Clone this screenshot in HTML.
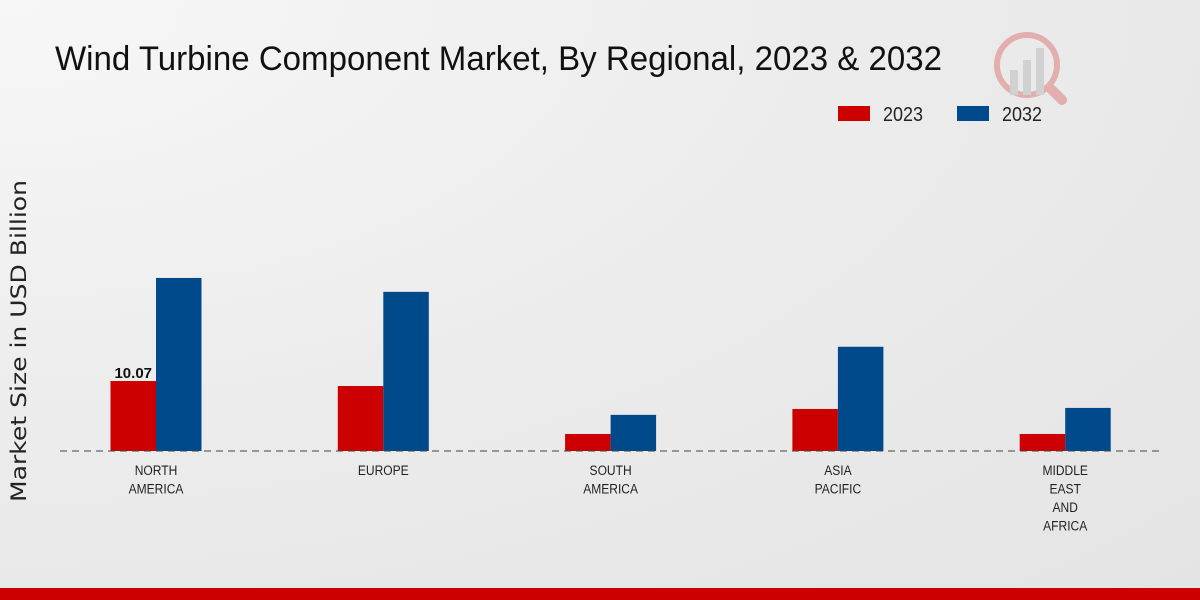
<!DOCTYPE html>
<html><head><meta charset="utf-8"><style>
body{margin:0;width:1200px;height:600px;overflow:hidden;background:radial-gradient(ellipse at 0% 0%,#f7f7f7 0%,#ececec 50%,#e4e4e4 100%);font-family:"Liberation Sans",sans-serif;}
svg{position:absolute;left:0;top:0}
</style></head><body>
<svg width="1200" height="600">
<text x="55" y="70" font-size="34" fill="#111" textLength="887" lengthAdjust="spacingAndGlyphs">Wind Turbine Component Market, By Regional, 2023 &amp; 2032</text>
<g opacity="0.25">
<circle cx="1027" cy="65" r="30" fill="none" stroke="#c00" stroke-width="6"/>
<rect x="1010" y="70" width="8" height="25" fill="#888"/><rect x="1023" y="60" width="8" height="35" fill="#888"/><rect x="1036" y="48" width="8" height="47" fill="#888"/>
<line x1="1050" y1="88" x2="1062" y2="100" stroke="#c00" stroke-width="10" stroke-linecap="round"/>
</g>
<g>
<rect x="838" y="106" width="32" height="15" fill="#cc0000"/>
<text x="883" y="121" font-size="20" fill="#222" textLength="40" lengthAdjust="spacingAndGlyphs">2023</text>
<rect x="957" y="106" width="32" height="15" fill="#004a8c"/>
<text x="1002" y="121" font-size="20" fill="#222" textLength="40" lengthAdjust="spacingAndGlyphs">2032</text>
</g>
<text transform="translate(26,341) rotate(-90)" text-anchor="middle" font-family="'DejaVu Sans',sans-serif" font-size="21" fill="#222" textLength="322" lengthAdjust="spacingAndGlyphs">Market Size in USD Billion</text>
<g id="bars"></g>
<line x1="60" y1="451" x2="1160" y2="451" stroke="#444" stroke-dasharray="7,5" stroke-width="1"/>
<g id="labels"></g>
<rect x="0" y="588" width="1200" height="12" fill="#cc0000"/>
</svg>
<script>
const categories=[["NORTH","AMERICA"],["EUROPE"],["SOUTH","AMERICA"],["ASIA","PACIFIC"],["MIDDLE","EAST","AND","AFRICA"]];
const values2023=[10.07,9.35,2.45,6.05,2.45];
const values2032=[24.9,22.9,5.2,15.0,6.2];
const ns="http://www.w3.org/2000/svg";
const base=451,scale=6.95,x0=156,step=227.3,bw=45.5;
const yv=v=>base-v*scale, xc=i=>x0+i*step;
const bars=document.getElementById('bars'),labs=document.getElementById('labels');
function rect(x,v,fill,name){const r=document.createElementNS(ns,'rect');r.setAttribute('x',x);r.setAttribute('y',yv(v));r.setAttribute('width',bw);r.setAttribute('height',v*scale);r.setAttribute('fill',fill);


bars.appendChild(r);}
categories.forEach((c,i)=>{
rect(xc(i)-bw,values2023[i],'#cc0000','bar-2023-'+i);
rect(xc(i),values2032[i],'#004a8c','bar-2032-'+i);
c.forEach((line,j)=>{const t=document.createElementNS(ns,'text');t.setAttribute('x',0);t.setAttribute('y',0);t.setAttribute('transform','translate('+xc(i)+','+(475+j*18.5)+') scale(0.86,1)');t.setAttribute('text-anchor','middle');t.setAttribute('font-size','14');t.setAttribute('fill','#222');t.textContent=line;


labs.appendChild(t);});
});
const vl=document.createElementNS(ns,'text');vl.setAttribute('x',xc(0)-bw/2);vl.setAttribute('y',yv(values2023[0])-3);vl.setAttribute('text-anchor','middle');vl.setAttribute('font-size','15');vl.setAttribute('font-weight','bold');vl.setAttribute('fill','#111');vl.textContent=values2023[0].toFixed(2);


labs.appendChild(vl);
</script>
</body></html>
